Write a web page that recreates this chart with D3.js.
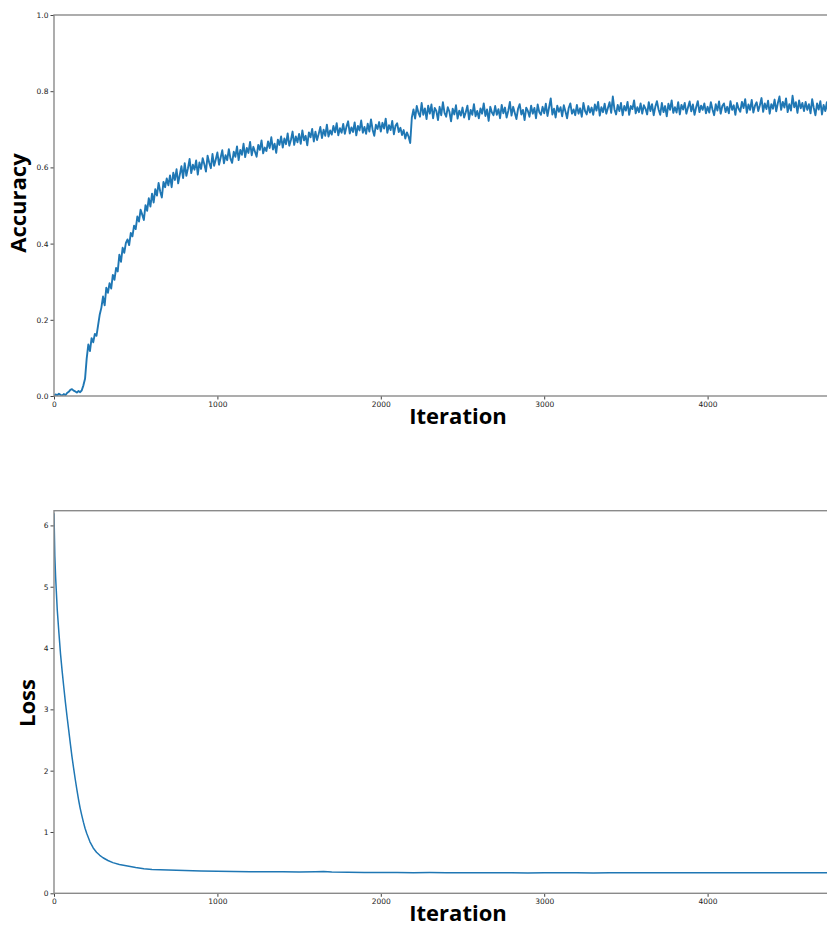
<!DOCTYPE html>
<html>
<head>
<meta charset="utf-8">
<script src="https://cdn.jsdelivr.net/npm/d3@7"></script>
<style>
  body { margin: 0; background: #fff; overflow: hidden; }
  .tick text { font-family: "DejaVu Sans", sans-serif; font-size: 7.5px; fill: #222; }
  .tick line { stroke: #444; }
  .axis-label { font-family: "Open Sans", sans-serif; font-weight: 700; fill: #000; }
</style>
</head>
<body>
<div id="chart"></div>
<script>
const accStep = 10;
const accuracy = [
  0.000, 0.004, 0.002, 0.006, 0.003, 0.001, 0.005, 0.002, 0.008, 0.011,
  0.016, 0.018, 0.014, 0.012, 0.009, 0.013, 0.010, 0.015, 0.028, 0.045,
  0.098, 0.135, 0.118, 0.152, 0.141, 0.163, 0.158, 0.186, 0.214, 0.232,
  0.261, 0.238, 0.284, 0.271, 0.296, 0.282, 0.318, 0.305, 0.336, 0.327,
  0.371, 0.352, 0.389, 0.376, 0.402, 0.411, 0.396, 0.428, 0.419, 0.447,
  0.438, 0.471, 0.458, 0.489, 0.476, 0.462, 0.501, 0.486, 0.519, 0.497,
  0.531, 0.508, 0.543, 0.526, 0.559, 0.537, 0.521, 0.562, 0.548, 0.571,
  0.553, 0.579, 0.548, 0.586, 0.567, 0.595, 0.558, 0.581, 0.603, 0.572,
  0.611, 0.578, 0.598, 0.622, 0.585, 0.607, 0.594, 0.618, 0.581, 0.613,
  0.596, 0.624, 0.608, 0.589, 0.631, 0.612, 0.598, 0.635, 0.604, 0.621,
  0.639, 0.607, 0.626, 0.645, 0.611, 0.632, 0.619, 0.648, 0.623, 0.612,
  0.641, 0.628, 0.655, 0.619, 0.646, 0.633, 0.662, 0.627, 0.651, 0.638,
  0.667, 0.632, 0.654, 0.641, 0.628, 0.659, 0.646, 0.671, 0.637, 0.652,
  0.643, 0.668, 0.651, 0.679, 0.647, 0.662, 0.638, 0.673, 0.659, 0.681,
  0.652, 0.676, 0.661, 0.689, 0.657, 0.672, 0.694, 0.659, 0.681, 0.666,
  0.688, 0.662, 0.697, 0.671, 0.683, 0.658, 0.692, 0.679, 0.701, 0.668,
  0.694, 0.672, 0.688, 0.706, 0.677, 0.699, 0.683, 0.712, 0.681, 0.697,
  0.686, 0.709, 0.692, 0.716, 0.684, 0.703, 0.691, 0.714, 0.688, 0.707,
  0.721, 0.689, 0.705, 0.693, 0.718, 0.684, 0.709, 0.697, 0.723, 0.691,
  0.706, 0.688, 0.715, 0.694, 0.726, 0.699, 0.683, 0.712, 0.701, 0.719,
  0.694, 0.717, 0.702, 0.728, 0.691, 0.711, 0.698, 0.722, 0.687, 0.709,
  0.716, 0.693, 0.704, 0.685, 0.698, 0.676, 0.692, 0.681, 0.664, 0.731,
  0.752, 0.728, 0.761, 0.744, 0.733, 0.769, 0.738, 0.755, 0.727, 0.762,
  0.741, 0.765, 0.729, 0.756, 0.748, 0.724, 0.759, 0.737, 0.771, 0.743,
  0.733, 0.758, 0.746, 0.721, 0.754, 0.739, 0.763, 0.728, 0.749, 0.736,
  0.757, 0.731, 0.745, 0.762, 0.726, 0.751, 0.738, 0.766, 0.734, 0.748,
  0.729, 0.755, 0.741, 0.768, 0.735, 0.752, 0.722, 0.759, 0.744, 0.737,
  0.761, 0.738, 0.753, 0.729, 0.764, 0.742, 0.757, 0.731, 0.748, 0.772,
  0.736, 0.759, 0.743, 0.727, 0.754, 0.766, 0.739, 0.751, 0.724, 0.757,
  0.748, 0.733, 0.762, 0.741, 0.756, 0.729, 0.765, 0.745, 0.738, 0.759,
  0.742, 0.767, 0.735, 0.758, 0.781, 0.739, 0.754, 0.731, 0.762, 0.746,
  0.758, 0.734, 0.763, 0.747, 0.729, 0.756, 0.768, 0.741, 0.752, 0.737,
  0.764, 0.741, 0.755, 0.733, 0.769, 0.748, 0.739, 0.761, 0.744, 0.757,
  0.738, 0.765, 0.749, 0.772, 0.736, 0.758, 0.745, 0.767, 0.741, 0.756,
  0.771, 0.743, 0.786, 0.752, 0.739, 0.764, 0.748, 0.769, 0.737, 0.761,
  0.749, 0.772, 0.738, 0.761, 0.753, 0.776, 0.742, 0.758, 0.745, 0.768,
  0.741, 0.763, 0.754, 0.739, 0.771, 0.748, 0.766, 0.737, 0.759, 0.774,
  0.752, 0.738, 0.769, 0.745, 0.761, 0.734, 0.767, 0.751, 0.776, 0.743,
  0.758, 0.744, 0.771, 0.739, 0.764, 0.752, 0.769, 0.741, 0.757, 0.773,
  0.747, 0.765, 0.738, 0.758, 0.774, 0.745, 0.762, 0.751, 0.768, 0.742,
  0.759, 0.744, 0.771, 0.752, 0.737, 0.766, 0.749, 0.773, 0.741, 0.761,
  0.768, 0.745, 0.759, 0.742, 0.774, 0.751, 0.763, 0.738, 0.769, 0.754,
  0.746, 0.772, 0.756, 0.779, 0.743, 0.765, 0.751, 0.777, 0.744, 0.762,
  0.771, 0.748, 0.763, 0.782, 0.746, 0.768, 0.753, 0.775, 0.741, 0.766,
  0.754, 0.778, 0.747, 0.769, 0.786, 0.751, 0.772, 0.757, 0.781, 0.745,
  0.766, 0.749, 0.788, 0.758, 0.771, 0.743, 0.776, 0.755, 0.769, 0.748,
  0.772, 0.751, 0.766, 0.742, 0.779, 0.756, 0.737, 0.768, 0.752, 0.774,
  0.739, 0.764, 0.748, 0.771, 0.735, 0.758, 0.767, 0.743, 0.762, 0.751,
  0.756
];

// loss, denser where it drops fast
const lossIters = [
  0, 5, 10, 20, 30, 40, 50, 60, 70, 80, 90, 100, 110, 120, 130, 140, 150, 160, 170, 180, 190,
  200, 220, 240, 260, 280, 300, 330, 360, 400, 450, 500, 550, 600, 700, 800, 900,
  1000, 1100, 1200, 1300, 1400, 1500, 1600, 1650, 1700, 1800, 1900, 2000, 2100, 2200,
  2300, 2400, 2500, 2600, 2700, 2800, 2900, 3000, 3100, 3200, 3300, 3400, 3500, 3600,
  3700, 3800, 3900, 4000, 4100, 4200, 4300, 4400, 4500, 4600, 4700, 4800
];
const lossValues = [
  6.20, 5.50, 5.15, 4.62, 4.25, 3.90, 3.62, 3.36, 3.11, 2.88, 2.66, 2.44, 2.23, 2.04, 1.86, 1.69, 1.53, 1.39, 1.27, 1.16, 1.06,
  0.98, 0.84, 0.74, 0.67, 0.62, 0.58, 0.535, 0.50, 0.47, 0.445, 0.42, 0.40, 0.39, 0.38, 0.37, 0.365,
  0.36, 0.355, 0.352, 0.35, 0.352, 0.348, 0.352, 0.356, 0.347, 0.342, 0.340, 0.341, 0.338, 0.336,
  0.338, 0.335, 0.337, 0.334, 0.336, 0.335, 0.333, 0.336, 0.334, 0.337, 0.331, 0.335, 0.336, 0.334,
  0.336, 0.335, 0.337, 0.334, 0.336, 0.335, 0.334, 0.336, 0.335, 0.334, 0.336, 0.335
];

const xTicks = [0, 1000, 2000, 3000, 4000];
const accTicks = [0, 0.2, 0.4, 0.6, 0.8, 1.0];
const lossTicks = [0, 1, 2, 3, 4, 5, 6];

const W = 827, H = 927;
const svg = d3.select("#chart").append("svg")
  .attr("width", W).attr("height", H);

const color = "#1f77b4";
const left = 54, right = 54 + 163.4 * 5;

const x = d3.scaleLinear().domain([0, 5000]).range([left, right]);

function panel(id, top, bottom, yDomain, yTicks, yFmt, data, yLabel, labelX, labelY, xLabelY, labelSize, lw) {
  const y = d3.scaleLinear().domain(yDomain).range([bottom, top]);

  svg.append("clipPath").attr("id", id)
    .append("rect").attr("x", left).attr("y", top)
    .attr("width", right - left).attr("height", bottom - top);

  svg.append("path")
    .datum(data)
    .attr("clip-path", `url(#${id})`)
    .attr("fill", "none")
    .attr("stroke", color)
    .attr("stroke-width", lw)
    .attr("stroke-linejoin", "round")
    .attr("d", d3.line().x(d => x(d[0])).y(d => y(d[1])));

  // axes
  const gx = svg.append("g")
    .attr("transform", `translate(0,${bottom})`)
    .call(d3.axisBottom(x).tickValues(xTicks).tickFormat(d3.format("d")).tickSize(3.5).tickSizeOuter(0).tickPadding(2));
  const gy = svg.append("g")
    .attr("transform", `translate(${left},0)`)
    .call(d3.axisLeft(y).tickValues(yTicks).tickFormat(yFmt).tickSize(3.5).tickSizeOuter(0).tickPadding(2));
  gx.select(".domain").remove();
  gy.select(".domain").remove();

  // spines
  svg.append("rect")
    .attr("x", left).attr("y", top)
    .attr("width", right - left).attr("height", bottom - top)
    .attr("fill", "none").attr("stroke", "#8a8a8a").attr("stroke-width", 1.4);

  svg.append("text").attr("class", "axis-label")
    .attr("x", 458).attr("y", xLabelY)
    .attr("text-anchor", "middle")
    .style("font-size", labelSize + "px")
    .text("Iteration");

  svg.append("text").attr("class", "axis-label")
    .attr("transform", `translate(${labelX},${labelY}) rotate(-90)`)
    .attr("text-anchor", "middle")
    .style("font-size", labelSize + "px")
    .text(yLabel);
}

const accData = accuracy.map((v, i) => [i * accStep, v]);
const lossData = lossIters.map((t, i) => [t, lossValues[i]]);

panel("clipAcc", 15, 396, [0, 1], accTicks, d3.format(".1f"), accData, "Accuracy", 26, 203, 424, 22, 1.9);
panel("clipLoss", 510.7, 893.3, [0, 6.24], lossTicks, d3.format("d"), lossData, "Loss", 35, 703, 921, 22, 1.5);
</script>
</body>
</html>
